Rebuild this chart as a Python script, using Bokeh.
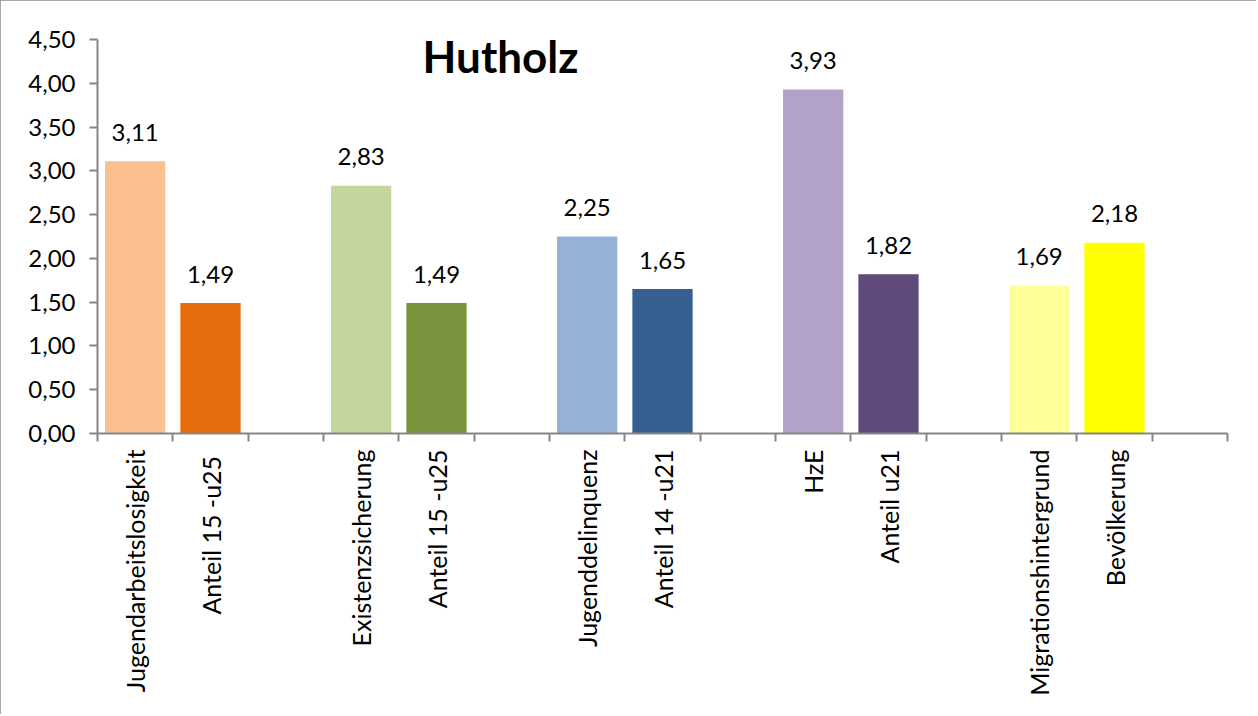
import math
from bokeh.plotting import figure
from bokeh.models import Range1d, FixedTicker, Label, ColumnDataSource
from bokeh.core.properties import value
from bokeh.embed import file_html
from bokeh.resources import INLINE

title = "Hutholz"
categories = ["Jugendarbeitslosigkeit", "Anteil  15 -u25", "Existenzsicherung", "Anteil 15 -u25",
              "Jugenddelinquenz", "Anteil 14 -u21", "HzE", "Anteil u21",
              "Migrationshintergrund", "Bevölkerung"]
values = [3.11, 1.49, 2.83, 1.49, 2.25, 1.65, 3.93, 1.82, 1.69, 2.18]
colors = ["#FAC090", "#E46C0A", "#C3D69B", "#77933C", "#95B3D7", "#366092",
          "#B3A2C7", "#604A7B", "#FFFF99", "#FFFF00"]
y_ticks = [0.0, 0.5, 1.0, 1.5, 2.0, 2.5, 3.0, 3.5, 4.0, 4.5]
y_tick_labels = ["0,00", "0,50", "1,00", "1,50", "2,00", "2,50", "3,00", "3,50", "4,00", "4,50"]

FONT = "Lato"
AXIS_COLOR = "#868686"

# groups of two bars followed by one empty slot
per_group = 2
slot_count = (len(values) // per_group) * (per_group + 1)
xs = [(i // per_group) * (per_group + 1) + (i % per_group) + 0.5 for i in range(len(values))]
value_labels = [f"{v:.2f}".replace(".", ",") for v in values]

src = ColumnDataSource(dict(x=xs, top=values, color=colors, label=value_labels, cat=categories))

p = figure(width=1256, height=714, output_backend="svg", toolbar_location=None,
           x_range=Range1d(0, slot_count), y_range=Range1d(0, 4.5),
           min_border_left=97, min_border_right=29, min_border_top=39, min_border_bottom=281)
p.styles = {"outline": "2px solid #8c8c8c", "outline-offset": "-2px"}
p.outline_line_color = None
p.xgrid.visible = False
p.ygrid.visible = False
p.background_fill_color = "white"
p.border_fill_color = "white"

p.vbar(x="x", top="top", width=0.8, color="color", source=src, line_color=None)
p.text(x="x", y="top", text="label", source=src, text_font=value(FONT), text_font_size="24px",
       text_align="center", text_baseline="alphabetic", y_offset=-29, text_color="black")

p.add_layout(Label(x=5.35, y=4.31, text=title, text_font=FONT, text_font_size="44px",
                   text_font_style="bold", text_align="center", text_baseline="middle",
                   text_color="black"))

xa = p.xaxis[0]
xa.ticker = FixedTicker(ticks=xs, minor_ticks=list(range(slot_count + 1)))
xa.major_label_overrides = {x: c for x, c in zip(xs, categories)}
xa.major_label_orientation = math.pi / 2
xa.major_label_text_font = FONT
xa.major_label_text_font_size = "25px"
xa.major_label_text_color = "black"
xa.major_label_standoff = 8
xa.major_tick_line_color = None
xa.major_tick_out = 0
xa.major_tick_in = 0
xa.minor_tick_out = 8
xa.minor_tick_in = 0
xa.minor_tick_line_color = AXIS_COLOR
xa.minor_tick_line_width = 2
xa.axis_line_color = AXIS_COLOR
xa.axis_line_width = 2

ya = p.yaxis[0]
ya.ticker = FixedTicker(ticks=y_ticks, minor_ticks=[])
ya.major_label_overrides = {t: l for t, l in zip(y_ticks, y_tick_labels)}
ya.major_label_text_font = FONT
ya.major_label_text_font_size = "24px"
ya.major_label_text_color = "black"
ya.major_label_standoff = 14
ya.major_tick_out = 8
ya.major_tick_in = 0
ya.major_tick_line_color = AXIS_COLOR
ya.major_tick_line_width = 2
ya.minor_tick_line_color = None
ya.axis_line_color = AXIS_COLOR
ya.axis_line_width = 2

open("out.html", "w").write(file_html(p, INLINE))
